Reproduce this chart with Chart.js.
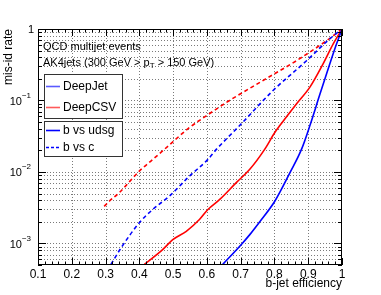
<!DOCTYPE html>
<html lang="en">
<head>
    <meta charset="UTF-8">
    <title>mis-id rate vs b-jet efficiency</title>
    <script src="https://cdn.jsdelivr.net/npm/chart.js@4.4.1/dist/chart.umd.min.js"></script>
    <style>
        body { margin: 0; background: #fff; }
        canvas { display: block; }
    </style>
</head>
<body>
    <canvas id="roc" width="381" height="295"></canvas>

    <script>
        // axis ticks
        const xTicks = [0.1, 0.2, 0.3, 0.4, 0.5, 0.6, 0.7, 0.8, 0.9, 1];
        const yDecades = [1e-3, 1e-2, 1e-1, 1];
        const yLabels = ['10', '10', '10', '1'];
        const yExps = ['\u22123', '\u22122', '\u22121', ''];

        // DeepJet, b vs udsg
        const djUdsgX = [0.647, 0.702, 0.727, 0.756, 0.801, 0.846, 0.880, 0.905, 0.935, 0.964, 0.984, 1.0];
        const djUdsgY = [5.1e-4, 9.7e-4, 1.33e-3, 2.0e-3, 3.9e-3, 9.8e-3, 0.0207, 0.0446, 0.124, 0.326, 0.62, 1.0];
        // DeepCSV, b vs udsg
        const csvUdsgX = [0.415, 0.469, 0.499, 0.539, 0.578, 0.603, 0.638, 0.687, 0.727, 0.771, 0.801, 0.816, 0.865, 0.905, 0.944, 0.974, 1.0];
        const csvUdsgY = [5.1e-4, 8.2e-4, 1.13e-3, 1.48e-3, 2.16e-3, 2.99e-3, 4.13e-3, 7.1e-3, 0.0109, 0.0207, 0.0356, 0.0446, 0.0896, 0.154, 0.326, 0.62, 1.0];
        // DeepJet, b vs c
        const djCX = [0.316, 0.346, 0.40, 0.44, 0.489, 0.549, 0.603, 0.628, 0.697, 0.796, 0.895, 0.964, 1.0];
        const djCY = [5.1e-4, 8.7e-4, 1.95e-3, 3.0e-3, 4.6e-3, 8.8e-3, 0.015, 0.0207, 0.0446, 0.138, 0.36, 0.73, 1.0];
        // DeepCSV, b vs c
        const csvCX = [0.296, 0.311, 0.34, 0.40, 0.44, 0.474, 0.549, 0.598, 0.667, 0.766, 0.865, 0.955, 1.0];
        const csvCY = [3.3e-3, 3.9e-3, 5.1e-3, 0.0103, 0.015, 0.0207, 0.042, 0.061, 0.10, 0.19, 0.36, 0.69, 1.0];

        const BLUE = '#0000ff';
        const RED = '#ff0000';
        const FONT = '"Liberation Sans", Arial, sans-serif';

        function pts(xs, ys) {
            return xs.map((x, i) => ({ x: x, y: ys[i] }));
        }

        // 1..9 x 10^k between the axis limits, for grid and minor ticks
        function logSteps(min, max) {
            const out = [];
            for (let e = -4; e <= 0; e++) {
                for (let m = 1; m <= 9; m++) {
                    const v = m * Math.pow(10, e);
                    if (v >= min * 0.999 && v <= max * 1.001) out.push(v);
                }
            }
            return out;
        }

        // grid, frame, tick marks, texts and the two legend boxes
        const rootStyle = {
            id: 'rootStyle',
            beforeDatasetsDraw(chart) {
                const ctx = chart.ctx;
                const a = chart.chartArea;
                const xs = chart.scales.x, ys = chart.scales.y;
                ctx.save();
                ctx.strokeStyle = '#7a7a7a';
                ctx.lineWidth = 1;
                ctx.setLineDash([1, 2]);
                xTicks.forEach(v => {
                    const px = Math.round(xs.getPixelForValue(v)) + 0.5;
                    if (px <= a.left + 1 || px >= a.right - 1) return;
                    ctx.beginPath(); ctx.moveTo(px, a.top); ctx.lineTo(px, a.bottom); ctx.stroke();
                });
                logSteps(ys.min, ys.max).forEach(v => {
                    const py = Math.round(ys.getPixelForValue(v)) + 0.5;
                    if (py <= a.top + 1 || py >= a.bottom - 1) return;
                    ctx.beginPath(); ctx.moveTo(a.left, py); ctx.lineTo(a.right, py); ctx.stroke();
                });
                ctx.restore();
            },
            afterDraw(chart) {
                const ctx = chart.ctx;
                const a = chart.chartArea;
                const xs = chart.scales.x, ys = chart.scales.y;
                ctx.save();
                ctx.setLineDash([]);
                ctx.strokeStyle = '#000';
                ctx.lineWidth = 1;
                ctx.strokeRect(a.left + 0.5, a.top + 0.5, a.right - a.left - 1, a.bottom - a.top - 1);

                // x tick marks, major every 0.1, minor every 0.02
                ctx.beginPath();
                for (let i = 0; i <= 45; i++) {
                    const v = 0.1 + i * 0.02;
                    const px = Math.round(xs.getPixelForValue(v)) + 0.5;
                    const len = (i % 5 === 0) ? 7 : 3.5;
                    ctx.moveTo(px, a.bottom); ctx.lineTo(px, a.bottom - len);
                    ctx.moveTo(px, a.top); ctx.lineTo(px, a.top + len);
                }
                // y tick marks
                logSteps(ys.min, ys.max).forEach(v => {
                    const py = Math.round(ys.getPixelForValue(v)) + 0.5;
                    const major = yDecades.some(d => Math.abs(d - v) < d * 1e-6);
                    const len = major ? 8 : 4;
                    ctx.moveTo(a.left, py); ctx.lineTo(a.left + len, py);
                    ctx.moveTo(a.right, py); ctx.lineTo(a.right - len, py);
                });
                ctx.stroke();

                // y labels with exponents
                ctx.fillStyle = '#000';
                ctx.textBaseline = 'middle';
                yDecades.forEach((v, i) => {
                    const py = ys.getPixelForValue(v);
                    let right = a.left - 4;
                    if (yExps[i]) {
                        ctx.font = '8px ' + FONT;
                        ctx.textAlign = 'right';
                        ctx.fillText(yExps[i], right - 3, py - 5);
                        right -= 3 + ctx.measureText(yExps[i]).width;
                    }
                    ctx.font = '11px ' + FONT;
                    ctx.textAlign = 'right';
                    ctx.fillText(yLabels[i], right, py + 1);
                });

                // axis titles
                ctx.font = '12px ' + FONT;
                ctx.textAlign = 'right';
                ctx.fillText('b-jet efficiency', a.right, 284);
                ctx.save();
                ctx.translate(9, a.top);
                ctx.rotate(-Math.PI / 2);
                ctx.fillText('mis-id rate', 0, 0);
                ctx.restore();

                // sample description
                ctx.font = '11px ' + FONT;
                ctx.textAlign = 'left';
                ctx.fillText('QCD multijet events', 43, 47);
                let x = 43;
                const part1 = 'AK4jets (300 GeV > p';
                ctx.fillText(part1, x, 63);
                x += ctx.measureText(part1).width;
                ctx.font = '8px ' + FONT;
                ctx.fillText('T', x, 66);
                x += ctx.measureText('T').width;
                ctx.font = '11px ' + FONT;
                ctx.fillText(' > 150 GeV)', x, 63);

                // legend boxes
                ctx.fillStyle = '#fff';
                ctx.strokeStyle = '#333';
                ctx.lineWidth = 1;
                [[44, 74, 78, 44], [44, 121, 78, 35]].forEach(b => {
                    ctx.fillRect(b[0] + 0.5, b[1] + 0.5, b[2], b[3]);
                    ctx.strokeRect(b[0] + 0.5, b[1] + 0.5, b[2], b[3]);
                });
                const entries = [
                    ['DeepJet', '#5a5aff', [], 86],
                    ['DeepCSV', '#ff5a5a', [], 107],
                    ['b vs udsg', BLUE, [], 130],
                    ['b vs c', BLUE, [3, 2], 147]
                ];
                ctx.font = '12px ' + FONT;
                entries.forEach(e => {
                    ctx.strokeStyle = e[1];
                    ctx.lineWidth = 1.6;
                    ctx.setLineDash(e[2]);
                    ctx.beginPath(); ctx.moveTo(46, e[3] + 0.5); ctx.lineTo(60, e[3] + 0.5); ctx.stroke();
                    ctx.fillStyle = '#000';
                    ctx.fillText(e[0], 63, e[3] + 1);
                });
                ctx.restore();
            }
        };

        const ctx = document.getElementById('roc').getContext('2d');
        new Chart(ctx, {
            type: 'line',
            data: {
                datasets: [
                    { label: 'DeepJet b vs udsg', data: pts(djUdsgX, djUdsgY), borderColor: BLUE },
                    { label: 'DeepCSV b vs udsg', data: pts(csvUdsgX, csvUdsgY), borderColor: RED },
                    { label: 'DeepJet b vs c', data: pts(djCX, djCY), borderColor: BLUE, borderDash: [4, 3] },
                    { label: 'DeepCSV b vs c', data: pts(csvCX, csvCY), borderColor: RED, borderDash: [4, 3] }
                ]
            },
            options: {
                responsive: false,
                animation: false,
                devicePixelRatio: 1,
                elements: {
                    point: { radius: 0 },
                    line: { borderWidth: 1.6, cubicInterpolationMode: 'monotone', fill: false }
                },
                layout: { padding: { top: 29, right: 39, left: 0, bottom: 0 } },
                plugins: { legend: { display: false }, tooltip: { enabled: false } },
                scales: {
                    x: {
                        type: 'linear',
                        min: 0.1,
                        max: 1,
                        afterBuildTicks: s => { s.ticks = xTicks.map(v => ({ value: v })); },
                        afterFit: s => { s.height = 30; },
                        grid: { display: false, drawTicks: false },
                        border: { display: false },
                        ticks: {
                            padding: 2,
                            color: '#000',
                            maxRotation: 0,
                            autoSkip: false,
                            font: { family: FONT, size: 12 },
                            callback: v => String(+v.toFixed(1))
                        }
                    },
                    y: {
                        type: 'logarithmic',
                        min: 5e-4,
                        max: 1,
                        afterBuildTicks: s => { s.ticks = yDecades.map(v => ({ value: v })); },
                        afterFit: s => { s.width = 38; },
                        grid: { display: false, drawTicks: false },
                        border: { display: false },
                        ticks: { display: false }
                    }
                }
            },
            plugins: [rootStyle]
        });
    </script>
</body>
</html>
